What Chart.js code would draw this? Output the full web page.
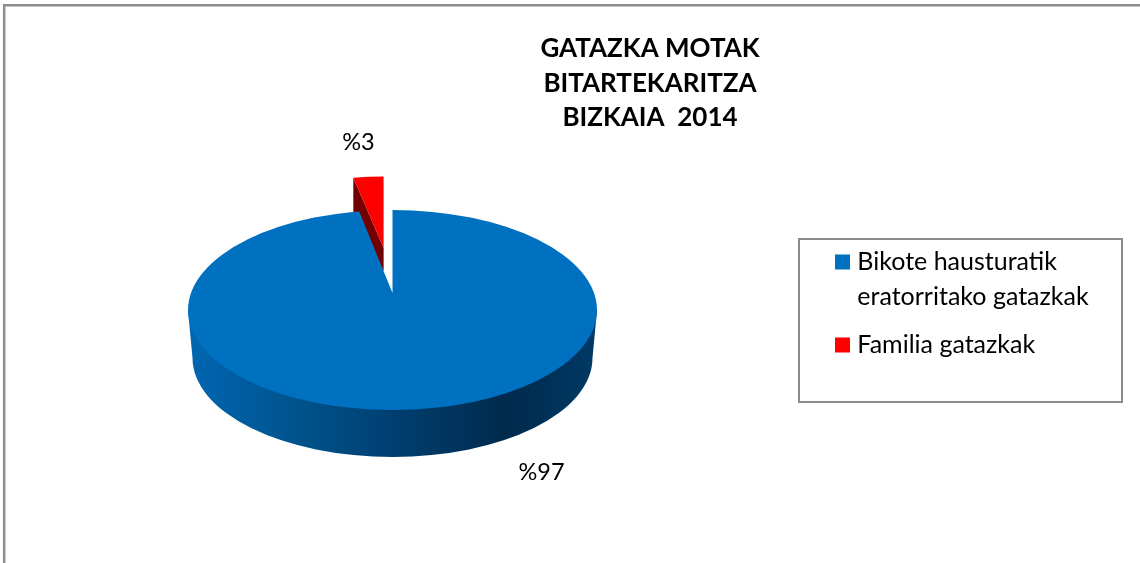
<!DOCTYPE html>
<html>
<head>
<meta charset="utf-8">
<style>html,body{margin:0;padding:0;background:#fff}canvas{display:block}</style>
<script src="https://cdn.jsdelivr.net/npm/chart.js@4"></script>
</head>
<body>
<canvas id="c" width="1140" height="563"></canvas>
<script>
const categories = [["Bikote hausturatik", "eratorritako gatazkak"], "Familia gatazkak"];
const values = [97, 3];
const sliceColors = ["#0070C0", "#FF0000"];
const titleLines = ["GATAZKA MOTAK", "BITARTEKARITZA", "BIZKAIA  2014"];
const FONT = "Lato";

// 3D look: where the flat pie slices end up on the page
const topFace = {cx: 392.5, cy: 310, rx: 204.5, ry: 100};
const baseFace = {cx: 392.5, cy: 358, rx: 200, ry: 99};
const blueView = {x: 392.5, y: 293, sx: 1.4, sy: 1.4 * 0.4675};
const redView = {x: 383.6, y: 248, sx: 0.79, sy: 0.35};
const redDepth = {apex: 23, corner: 36};
const valueLabelPos = [{x: 541.5, y: 472}, {x: 358.5, y: 142}];

function drawView(ctx, arc, view, area) {
  const r = arc.outerRadius;
  ctx.save();
  ctx.translate(view.x, view.y);
  ctx.scale(view.sx * 204.5 / r, view.sy * 204.5 / r);
  ctx.translate(-arc.x, -arc.y);
  arc.draw(ctx, area);
  ctx.restore();
}

const pie3d = {
  id: "pie3d",
  afterLayout(chart) {
    const t = chart.titleBlock;
    t.left = 450; t.right = 850; t.top = 49 - 17.25; t.bottom = 160;
    const l = chart.legend;
    l.left = 827.2; l.right = 1120; l.top = 236.5; l.bottom = 400;
    l.width = l.right - l.left; l.height = l.bottom - l.top;
  },
  beforeDraw(chart) {
    const ctx = chart.ctx;
    ctx.save();
    ctx.strokeStyle = "#8E8E8E";
    ctx.lineWidth = 2.5;
    ctx.beginPath();
    ctx.moveTo(4.2, 563); ctx.lineTo(4.2, 5.2); ctx.lineTo(1140, 5.2);
    ctx.stroke();
    ctx.lineWidth = 2;
    ctx.strokeStyle = "#8C8C8C";
    ctx.strokeRect(799, 239, 323, 163);
    ctx.restore();
  },
  beforeDatasetDraw(chart, args) {
    const ctx = chart.ctx;
    const [blue, red] = args.meta.data;
    const area = chart.chartArea;

    // outer wall of the big slice
    const g = ctx.createLinearGradient(topFace.cx - topFace.rx, 0, topFace.cx + topFace.rx, 0);
    g.addColorStop(0, "#0067B2");
    g.addColorStop(0.25, "#00548F");
    g.addColorStop(0.5, "#003F70");
    g.addColorStop(0.78, "#002A4D");
    g.addColorStop(1, "#003A66");
    ctx.save();
    ctx.fillStyle = g;
    ctx.beginPath();
    ctx.moveTo(topFace.cx - topFace.rx, topFace.cy);
    ctx.lineTo(baseFace.cx - baseFace.rx, baseFace.cy);
    ctx.ellipse(baseFace.cx, baseFace.cy, baseFace.rx, baseFace.ry, 0, Math.PI, 0, true);
    ctx.lineTo(topFace.cx + topFace.rx, topFace.cy);
    ctx.closePath();
    ctx.fill();
    ctx.restore();

    // exploded small slice: cut wall, then its face
    const a = red.startAngle;
    const cornerX = redView.x + Math.cos(a) * 204.5 * redView.sx;
    const cornerY = redView.y + Math.sin(a) * 204.5 * redView.sy;
    ctx.save();
    ctx.fillStyle = "#720000";
    ctx.beginPath();
    ctx.moveTo(cornerX, cornerY);
    ctx.lineTo(cornerX, cornerY + redDepth.corner);
    ctx.lineTo(redView.x, redView.y + redDepth.apex);
    ctx.lineTo(redView.x, redView.y);
    ctx.closePath();
    ctx.fill();
    ctx.restore();
    drawView(ctx, red, redView, area);

    // big slice, limited to the top ellipse
    ctx.save();
    ctx.beginPath();
    ctx.ellipse(topFace.cx, topFace.cy, topFace.rx, topFace.ry, 0, 0, Math.PI * 2);
    ctx.clip();
    drawView(ctx, blue, blueView, area);
    ctx.restore();
    return false;
  },
  afterDraw(chart) {
    const ctx = chart.ctx;
    ctx.save();
    ctx.fillStyle = "#000";
    ctx.font = "23.5px " + FONT;
    ctx.textAlign = "center";
    ctx.textBaseline = "middle";
    values.forEach((v, i) => ctx.fillText("%" + v, valueLabelPos[i].x, valueLabelPos[i].y));
    ctx.restore();
  }
};

new Chart(document.getElementById("c"), {
  type: "pie",
  data: {
    labels: categories,
    datasets: [{data: values, backgroundColor: sliceColors, borderWidth: 0}]
  },
  options: {
    responsive: false,
    animation: false,
    events: [],
    plugins: {
      title: {
        display: true,
        text: titleLines,
        color: "#000",
        padding: 0,
        font: {family: FONT, size: 26, weight: "bold", lineHeight: 34.5 / 26}
      },
      legend: {
        display: true,
        position: "right",
        align: "start",
        labels: {
          usePointStyle: true,
          pointStyle: "rect",
          boxWidth: 4.6,
          boxHeight: 15,
          padding: 13,
          color: "#000",
          font: {family: FONT, size: 25, lineHeight: 35 / 25}
        }
      },
      tooltip: {enabled: false}
    }
  },
  plugins: [pie3d]
});
</script>
</body>
</html>
